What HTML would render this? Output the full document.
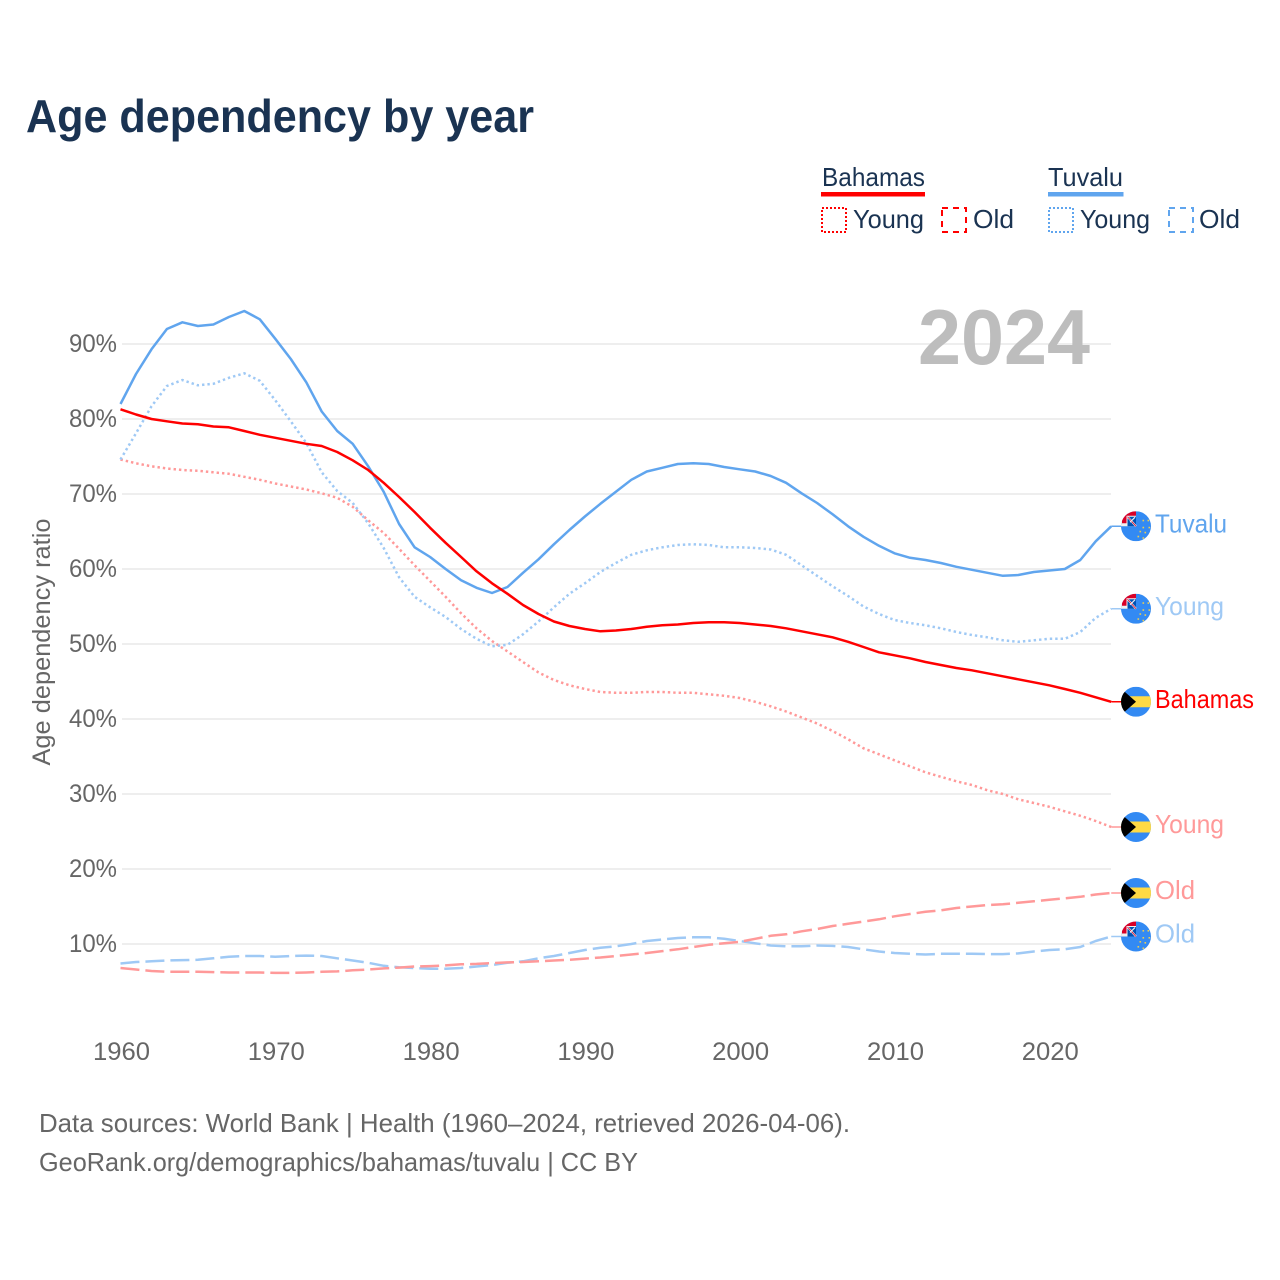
<!DOCTYPE html>
<html lang="en">
<head>
<meta charset="utf-8">
<title>Age dependency by year</title>
<style>
html,body{margin:0;padding:0;background:#fff;width:1280px;height:1280px;overflow:hidden}
svg{display:block}
text{font-family:"Liberation Sans",sans-serif}
</style>
</head>
<body>
<svg id="chart" xmlns="http://www.w3.org/2000/svg" width="1280" height="1280" viewBox="0 0 1280 1280">
  <defs>
    <clipPath id="flag-clip"><circle cx="0" cy="0" r="15"/></clipPath>
    <g id="flag-bahamas" clip-path="url(#flag-clip)">
      <rect x="-15" y="-15" width="30" height="30" fill="#338af3"/>
      <rect x="-15" y="-5.5" width="30" height="11" fill="#ffda44"/>
      <path d="M-17,-15 L0,0 L-17,15 Z" fill="#000"/>
    </g>
    <g id="flag-tuvalu" clip-path="url(#flag-clip)">
      <rect x="-15" y="-15" width="30" height="30" fill="#338af3"/>
      <rect x="-15" y="-15" width="15" height="15" fill="#f0f0f0"/>
      <path d="M-14,-15 H0 V-10.5 H-9.5 V-3 H-14 Z" fill="#d80027"/>
      <rect x="-8.5" y="-9.5" width="8.5" height="9.5" fill="#0052b4"/>
      <path d="M-8.5,-9.5 L0,0" stroke="#f0f0f0" stroke-width="2"/>
      <path d="M-8.5,-9.5 L0,0" stroke="#d80027" stroke-width="0.8"/>
      <path d="M-6,-4 L-1,-9" stroke="#f0f0f0" stroke-width="1.2"/>
      <g fill="#e8cc55">
        <rect x="6.5" y="-6.5" width="1.6" height="1.6"/><rect x="11.5" y="-6.5" width="1.6" height="1.6"/>
        <rect x="12.5" y="0.5" width="1.6" height="1.6"/><rect x="6.5" y="0.5" width="1.6" height="1.6"/>
        <rect x="3.5" y="4.5" width="1.6" height="1.6"/><rect x="8.5" y="5.5" width="1.6" height="1.6"/>
        <rect x="1.5" y="9.5" width="1.6" height="1.6"/><rect x="6.5" y="11" width="1.6" height="1.6"/>
      </g>
    </g>
  </defs>

  <text x="26" y="132" font-size="46" font-weight="700" fill="#1a3352" textLength="508" lengthAdjust="spacingAndGlyphs">Age dependency by year</text>

  <g>
    <g>
      <text x="822" y="186" font-size="26" fill="#1a3352" textLength="103" lengthAdjust="spacingAndGlyphs">Bahamas</text>
      <rect x="821" y="192" width="104" height="4.5" fill="#ff0000"/>
      <rect x="822" y="208" width="24" height="24" fill="none" stroke="#ff0000" stroke-width="2" stroke-dasharray="2 2"/>
      <text x="853" y="228" font-size="26" fill="#1a3352" textLength="71" lengthAdjust="spacingAndGlyphs">Young</text>
      <rect x="942" y="208" width="24" height="24" fill="none" stroke="#ff0000" stroke-width="2" stroke-dasharray="6 5"/>
      <text x="973" y="228" font-size="26" fill="#1a3352" textLength="41" lengthAdjust="spacingAndGlyphs">Old</text>
    </g>
    <g>
      <text x="1048" y="186" font-size="26" fill="#1a3352" textLength="75" lengthAdjust="spacingAndGlyphs">Tuvalu</text>
      <rect x="1048" y="192" width="75.5" height="4.5" fill="#60a5ee"/>
      <rect x="1049" y="208" width="24" height="24" fill="none" stroke="#60a5ee" stroke-width="2" stroke-dasharray="2 2"/>
      <text x="1080" y="228" font-size="26" fill="#1a3352" textLength="70" lengthAdjust="spacingAndGlyphs">Young</text>
      <rect x="1169" y="208" width="24" height="24" fill="none" stroke="#60a5ee" stroke-width="2" stroke-dasharray="6 5"/>
      <text x="1199" y="228" font-size="26" fill="#1a3352" textLength="41" lengthAdjust="spacingAndGlyphs">Old</text>
    </g>
  </g>

  <g id="grid"></g>
  <text x="918" y="364" font-size="78" font-weight="700" fill="#bdbdbd" textLength="172" lengthAdjust="spacingAndGlyphs">2024</text>
  <g id="y-ticks"></g>
  <g id="x-ticks"></g>
  <text transform="translate(50,642) rotate(-90)" text-anchor="middle" font-size="25" fill="#666" textLength="247" lengthAdjust="spacingAndGlyphs">Age dependency ratio</text>
  <g id="series"></g>
  <g id="end-labels"></g>

  <text x="39" y="1132" font-size="26" fill="#666" textLength="811" lengthAdjust="spacingAndGlyphs">Data sources: World Bank | Health (1960–2024, retrieved 2026-04-06).</text>
  <text x="39" y="1171" font-size="26" fill="#666" textLength="599" lengthAdjust="spacingAndGlyphs">GeoRank.org/demographics/bahamas/tuvalu | CC BY</text>
</svg>
<script>
const startYear = 1960;
const yTicks = [10, 20, 30, 40, 50, 60, 70, 80, 90];
const xTicks = [1960, 1970, 1980, 1990, 2000, 2010, 2020];

const bahamasTotal = [81.3,80.6,80,79.7,79.4,79.3,79,78.9,78.4,77.9,77.5,77.1,76.7,76.4,75.6,74.5,73.2,71.5,69.6,67.6,65.5,63.5,61.6,59.7,58.1,56.7,55.2,54,53,52.4,52,51.7,51.8,52,52.3,52.5,52.6,52.8,52.9,52.9,52.8,52.6,52.4,52.1,51.7,51.3,50.9,50.3,49.6,48.9,48.5,48.1,47.6,47.2,46.8,46.5,46.1,45.7,45.3,44.9,44.5,44,43.5,42.9,42.3];
const bahamasYoung = [74.6,74.1,73.7,73.4,73.2,73.1,72.9,72.7,72.3,71.9,71.4,71,70.6,70.1,69.5,68.3,66.5,64.8,62.7,60.5,58.4,56.3,54.1,52.1,50.4,49,47.6,46.2,45.2,44.5,44,43.6,43.5,43.5,43.6,43.6,43.5,43.5,43.3,43.1,42.8,42.3,41.7,41,40.2,39.4,38.4,37.3,36.1,35.3,34.5,33.7,32.9,32.3,31.7,31.2,30.5,30,29.3,28.8,28.3,27.7,27.1,26.4,25.6];
const bahamasOld = [6.8,6.6,6.4,6.3,6.3,6.3,6.25,6.2,6.2,6.2,6.15,6.15,6.2,6.3,6.35,6.5,6.6,6.75,6.85,7,7.05,7.15,7.3,7.35,7.45,7.55,7.6,7.7,7.8,7.9,8.05,8.2,8.4,8.6,8.8,9.05,9.3,9.6,9.9,10.1,10.3,10.7,11.1,11.3,11.7,12,12.4,12.7,13,13.3,13.7,14,14.3,14.5,14.8,15,15.2,15.3,15.5,15.7,15.9,16.1,16.3,16.6,16.8];
const tuvaluTotal = [82,86,89.3,92,92.9,92.4,92.6,93.6,94.4,93.3,90.7,88,84.9,81,78.4,76.7,73.7,70.3,66,62.9,61.6,60,58.5,57.5,56.8,57.6,59.5,61.3,63.3,65.2,67,68.7,70.3,71.9,73,73.5,74,74.1,74,73.6,73.3,73,72.4,71.5,70.1,68.8,67.3,65.7,64.3,63.1,62.1,61.5,61.2,60.8,60.3,59.9,59.5,59.1,59.2,59.6,59.8,60,61.2,63.7,65.7];
const tuvaluYoung = [74.6,78.1,81.7,84.4,85.2,84.5,84.7,85.5,86.1,85.1,82.5,79.7,76.8,72.9,70.4,68.8,66.1,62.8,58.9,56.3,54.9,53.6,52,50.7,49.7,49.9,51.3,53,54.9,56.7,58.1,59.6,60.8,61.9,62.5,62.9,63.2,63.3,63.2,62.9,62.9,62.8,62.6,61.9,60.5,59.1,57.7,56.4,55,54,53.2,52.8,52.5,52.1,51.6,51.2,50.9,50.5,50.3,50.5,50.7,50.7,51.6,53.5,54.7];
const tuvaluOld = [7.4,7.6,7.7,7.8,7.85,7.9,8.1,8.3,8.4,8.4,8.3,8.4,8.45,8.4,8.1,7.8,7.5,7.1,6.9,6.8,6.7,6.7,6.8,7,7.2,7.5,7.7,8.1,8.4,8.8,9.2,9.5,9.7,10,10.4,10.6,10.8,10.9,10.9,10.7,10.4,10.1,9.8,9.7,9.7,9.8,9.75,9.6,9.3,9,8.8,8.7,8.6,8.7,8.7,8.7,8.65,8.65,8.75,9,9.2,9.3,9.6,10.4,11];

const NS = 'http://www.w3.org/2000/svg';
const xScale = year => 120.5 + (year - 1960) * 15.48;
const yScale = value => 1019 - value * 7.5;

function make(tag, attrs, parent, text) {
  const el = document.createElementNS(NS, tag);
  for (const k in attrs) el.setAttribute(k, attrs[k]);
  if (text !== undefined) el.textContent = text;
  parent.appendChild(el);
  return el;
}

const gridG = document.getElementById('grid');
const yTickG = document.getElementById('y-ticks');
yTicks.forEach(t => {
  const line = make('line', {x1: 122, x2: 1111, y1: yScale(t), y2: yScale(t), stroke: '#eeeeee', 'stroke-width': 2}, gridG);
  
  
  const label = make('text', {x: 117, y: yScale(t) + 8, 'text-anchor': 'end', 'font-size': 25, fill: '#666', textLength: 48, lengthAdjust: 'spacingAndGlyphs'}, yTickG, t + '%');
  
  
});

const xTickG = document.getElementById('x-ticks');
xTicks.forEach(t => {
  const label = make('text', {x: xScale(t) + 1, y: 1060, 'text-anchor': 'middle', 'font-size': 25, fill: '#666', textLength: 57, lengthAdjust: 'spacingAndGlyphs'}, xTickG, String(t));
  
  
});

const DOT = '2.4 3';
const DASH = '19 6';
const seriesG = document.getElementById('series');
const labelsG = document.getElementById('end-labels');

function drawSeries(name, values, color, dash, labelText, labelWidth, flag) {
  const pts = values.map((v, i) => xScale(startYear + i).toFixed(1) + ',' + yScale(v).toFixed(1)).join(' ');
  const attrs = {points: pts, fill: 'none', stroke: color, 'stroke-width': 2.5, 'stroke-linejoin': 'round'};
  if (dash) attrs['stroke-dasharray'] = dash;
  const line = make('polyline', attrs, seriesG);
  
  

  const last = values[values.length - 1];
  const endX = xScale(startYear + values.length - 1);
  const endY = yScale(last);
  const conn = make('line', {x1: endX, x2: 1124, y1: endY, y2: endY, stroke: color, 'stroke-width': 1.5}, labelsG);
  
  
  const f = make('use', {href: '#' + flag, x: 1136, y: endY}, labelsG);
  
  
  const label = make('text', {x: 1155, y: endY + 6, 'font-size': 26, fill: color, textLength: labelWidth, lengthAdjust: 'spacingAndGlyphs'}, labelsG, labelText);
  
  
}

drawSeries('tuvalu-old', tuvaluOld, '#9fc9f5', DASH, 'Old', 40, 'flag-tuvalu');
drawSeries('bahamas-old', bahamasOld, '#ff9999', DASH, 'Old', 40, 'flag-bahamas');
drawSeries('bahamas-young', bahamasYoung, '#ff9999', DOT, 'Young', 69, 'flag-bahamas');
drawSeries('tuvalu-young', tuvaluYoung, '#9fc9f5', DOT, 'Young', 69, 'flag-tuvalu');
drawSeries('tuvalu-total', tuvaluTotal, '#60a5ee', null, 'Tuvalu', 72, 'flag-tuvalu');
drawSeries('bahamas-total', bahamasTotal, '#ff0000', null, 'Bahamas', 99, 'flag-bahamas');
</script>
</body>
</html>
